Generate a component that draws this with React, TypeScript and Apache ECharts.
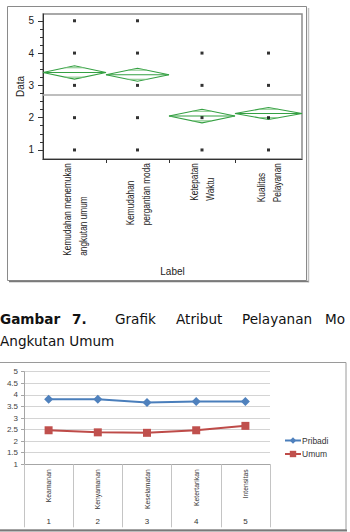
import React, { useEffect, useRef } from "react";
import * as echarts from "echarts";

// ---- Top chart (JMP one-way means diamonds) ----
const topCategories = [
  "Kemudahan menemukan\nangkutan umum",
  "Kemudahan\npergantian moda",
  "Ketepatan\nWaktu",
  "Kualitas\nPelayanan",
];
const groupWidths = [63, 63, 66, 67];
const groupMeans = [3.4, 3.33, 2.05, 2.13];
const groupCIHalf = [0.205, 0.2, 0.21, 0.185];
const groupResponses = [
  [1, 2, 3, 4, 5],
  [1, 2, 3, 4, 5],
  [1, 2, 3, 4],
  [1, 2, 3, 4],
];
const grandMean = 2.72;
const topYTicks = [1, 2, 3, 4, 5];
const topYMinorTicks = [1.25, 1.5, 1.75, 2.25, 2.5, 2.75, 3.25, 3.5, 3.75, 4.25, 4.5, 4.75];

// ---- Bottom chart (Excel line chart) ----
const attrNames = ["Keamanan", "Kenyamanan", "Keselamatan", "Ketertarikan", "Intensitas"];
const attrIndex = ["1", "2", "3", "4", "5"];
const pribadi = [3.81, 3.81, 3.67, 3.71, 3.71];
const umum = [2.47, 2.38, 2.36, 2.47, 2.66];

// ---- Caption ----
const captionWords = [
  { t: "Gambar", bold: true },
  { t: "7.", bold: true },
  { t: "Grafik", bold: false },
  { t: "Atribut", bold: false },
  { t: "Pelayanan", bold: false },
  { t: "Mo", bold: false },
];
const captionLine2 = "Angkutan Umum";

export default function App() {
  const ref = useRef<HTMLDivElement>(null);

  useEffect(() => {
    const chart = echarts.init(ref.current!, null, { renderer: "svg", width: 350, height: 532 });

    const total = groupWidths.reduce((a, b) => a + b, 0);
    const starts: number[] = [];
    const ends: number[] = [];
    let acc = 0;
    groupWidths.forEach((w) => {
      starts.push(acc);
      acc += w;
      ends.push(acc);
    });
    const centers = starts.map((s, i) => (s + ends[i]) / 2);
    const innerBounds = ends.slice(0, -1);

    const dots: number[][] = [];
    groupResponses.forEach((vals, i) => vals.forEach((v) => dots.push([centers[i], v])));

    const yMin = 0.72;
    const yMax = 5.21;
    const green = "#35a043";

    const option: any = {
      animation: false,
      grid: [
        { left: 43, top: 14, width: 259, height: 145, show: true, borderColor: "#8c8c8c", borderWidth: 1.5, backgroundColor: "#fff" },
        { left: 24, top: 371.7, width: 246, height: 92.6 },
      ],
      xAxis: [
        {
          gridIndex: 0,
          type: "value",
          min: 0,
          max: total,
          axisLine: { show: true, onZero: false, lineStyle: { color: "#333", width: 1 } },
          axisTick: { show: true, customValues: innerBounds, length: 4, lineStyle: { color: "#333" } },
          axisLabel: { show: false },
          splitLine: { show: false },
          name: "Label",
          nameLocation: "middle",
          nameGap: 107,
          nameMoveOverlap: false,
          nameTextStyle: { fontSize: 10, color: "#222", fontFamily: "Liberation Sans" },
        },
        {
          gridIndex: 1,
          type: "category",
          data: attrNames,
          boundaryGap: true,
          axisLine: { show: true, lineStyle: { color: "#a6a6a6" } },
          axisTick: { show: true, length: 63, alignWithLabel: false, lineStyle: { color: "#c4c4c4" } },
          axisLabel: { rotate: 90, fontSize: 6.8, color: "#333", margin: 5, fontFamily: "Liberation Sans" },
        },
        {
          gridIndex: 1,
          type: "category",
          data: attrIndex,
          position: "bottom",
          axisLine: { show: false },
          axisTick: { show: false },
          axisLabel: { fontSize: 8, color: "#333", margin: 53, fontFamily: "Liberation Sans" },
        },
      ],
      yAxis: [
        {
          gridIndex: 0,
          type: "value",
          min: yMin,
          max: yMax,
          position: "left",
          axisLine: { show: true, lineStyle: { color: "#333" } },
          axisTick: { show: true, customValues: topYTicks, length: 5, lineStyle: { color: "#333" } },
          axisLabel: { customValues: topYTicks, fontSize: 10, color: "#222", margin: 9, fontFamily: "Liberation Sans" },
          splitLine: { show: false },
          name: "Data",
          nameLocation: "middle",
          nameGap: 18,
          nameMoveOverlap: false,
          nameTextStyle: { fontSize: 10, color: "#222", fontFamily: "Liberation Sans" },
        },
        {
          gridIndex: 0,
          type: "value",
          min: yMin,
          max: yMax,
          position: "left",
          offset: 0,
          axisLine: { show: false },
          axisTick: { show: true, customValues: topYMinorTicks, length: 3, lineStyle: { color: "#333" } },
          axisLabel: { show: false },
          splitLine: { show: false },
        },
        {
          gridIndex: 1,
          type: "value",
          min: 1,
          max: 5,
          interval: 0.5,
          axisLine: { show: true, lineStyle: { color: "#a6a6a6" } },
          axisTick: { show: true, length: 3, lineStyle: { color: "#a6a6a6" } },
          axisLabel: { fontSize: 8, color: "#444", margin: 6, fontFamily: "Liberation Sans" },
          splitLine: { show: true, lineStyle: { color: "#d4d4d4", width: 1 } },
        },
      ],
      legend: {
        data: ["Pribadi", "Umum"],
        orient: "vertical",
        left: 284,
        top: 436,
        padding: 0,
        itemWidth: 16,
        itemHeight: 8,
        itemGap: 4.5,
        textStyle: { fontSize: 8.5, color: "#333", fontFamily: "Liberation Sans", padding: [0, 0, 0, -4] },
      },
      series: [
        {
          type: "custom",
          xAxisIndex: 0,
          yAxisIndex: 0,
          data: groupMeans.map((m, i) => [starts[i], ends[i], m, groupCIHalf[i]]),
          encode: { x: [0, 1], y: 2 },
          renderItem: (params: any, api: any) => {
            const x0 = api.value(0);
            const x1 = api.value(1);
            const m = api.value(2);
            const h = api.value(3);
            const xc = (x0 + x1) / 2;
            const pL = api.coord([x0, m]);
            const pR = api.coord([x1, m]);
            const pT = api.coord([xc, m + h]);
            const pB = api.coord([xc, m - h]);
            const k = 1 / Math.SQRT2;
            const half = (pR[0] - pL[0]) / 2;
            const ow = half * (1 - k);
            const cx = (pL[0] + pR[0]) / 2;
            const yU = api.coord([xc, m + h * k])[1];
            const yD = api.coord([xc, m - h * k])[1];
            return {
              type: "group",
              children: [
                {
                  type: "polygon",
                  shape: { points: [pL, pT, pR, pB] },
                  style: { fill: "none", stroke: green, lineWidth: 1.1 },
                },
                {
                  type: "line",
                  shape: { x1: pL[0], y1: pL[1], x2: pR[0], y2: pR[1] },
                  style: { stroke: green, lineWidth: 1.1 },
                },
                {
                  type: "line",
                  shape: { x1: cx - ow, y1: yU, x2: cx + ow, y2: yU },
                  style: { stroke: "#7cc47f", lineWidth: 1 },
                },
                {
                  type: "line",
                  shape: { x1: cx - ow, y1: yD, x2: cx + ow, y2: yD },
                  style: { stroke: "#7cc47f", lineWidth: 1 },
                },
              ],
            };
          },
          z: 3,
        },
        {
          type: "scatter",
          xAxisIndex: 0,
          yAxisIndex: 0,
          data: dots,
          symbol: "rect",
          symbolSize: 3,
          itemStyle: { color: "#000" },
          z: 4,
          markLine: {
            silent: true,
            symbol: "none",
            label: { show: false },
            lineStyle: { color: "#a8a8a8", width: 1.5, type: "solid" },
            data: [{ yAxis: grandMean }],
          },
        },
        {
          name: "Pribadi",
          type: "line",
          xAxisIndex: 1,
          yAxisIndex: 2,
          data: pribadi,
          symbol: "diamond",
          symbolSize: 9,
          lineStyle: { color: "#4a7ebb", width: 2 },
          itemStyle: { color: "#4f81bd" },
        },
        {
          name: "Umum",
          type: "line",
          xAxisIndex: 1,
          yAxisIndex: 2,
          data: umum,
          symbol: "rect",
          symbolSize: 8,
          lineStyle: { color: "#be4b48", width: 2 },
          itemStyle: { color: "#c0504d" },
        },
      ],
    };

    chart.setOption(option);

    // measure rotated label lengths
    const canvas = document.createElement("canvas");
    const ctx = canvas.getContext("2d")!;
    const labelFont = 10;
    const labelScale = 0.83;
    ctx.font = `${labelFont}px "Liberation Sans"`;
    const axisBottom = chart.convertToPixel({ yAxisIndex: 0 } as any, yMin) as number;

    const labelEls = topCategories.map((lab, i) => {
      const lines = lab.split("\n");
      const maxW = Math.max(...lines.map((l) => ctx.measureText(l).width)) * labelScale;
      const cx = chart.convertToPixel({ xAxisIndex: 0 } as any, centers[i]) as number;
      return {
        type: "text",
        x: cx + 1,
        y: axisBottom + 4 + maxW,
        rotation: Math.PI / 2,
        scaleX: labelScale,
        style: {
          text: lab,
          fontSize: labelFont,
          fontFamily: "Liberation Sans",
          fill: "#222",
          align: "left",
          verticalAlign: "middle",
          lineHeight: 16,
        },
      };
    });

    const captionX = [0, 72, 115, 176, 242, 325];
    const capFont = 13.6;
    const captionEls = captionWords.map((w, i) => ({
      type: "text",
      x: captionX[i],
      y: 319,
      style: {
        text: w.t,
        fontSize: capFont,
        fontWeight: w.bold ? "bold" : "normal",
        fontFamily: "DejaVu Sans",
        fill: "#111",
        align: "left",
        verticalAlign: "middle",
      },
    }));
    captionEls.push({
      type: "text",
      x: 0,
      y: 341,
      style: {
        text: captionLine2,
        fontSize: capFont,
        fontWeight: "normal",
        fontFamily: "DejaVu Sans",
        fill: "#111",
        align: "left",
        verticalAlign: "middle",
      },
    });

    const frameEls = [
      {
        type: "rect",
        shape: { x: 7.5, y: 6.5, width: 299, height: 274 },
        style: { fill: "none", stroke: "#8a8a8a", lineWidth: 1 },
        z: -1,
      },
      {
        type: "line",
        shape: { x1: 308.5, y1: 8, x2: 308.5, y2: 282.5 },
        style: { stroke: "#c2c2c2", lineWidth: 1.5 },
      },
      {
        type: "line",
        shape: { x1: 9, y1: 281.5, x2: 308.5, y2: 281.5 },
        style: { stroke: "#7a7a7a", lineWidth: 1.5 },
      },
      {
        type: "rect",
        shape: { x: -1, y: 362.5, width: 347, height: 167.5 },
        style: { fill: "none", stroke: "#9a9a9a", lineWidth: 1 },
        z: -1,
      },
      {
        type: "line",
        shape: { x1: 0, y1: 530.5, x2: 347, y2: 530.5 },
        style: { stroke: "#7a7a7a", lineWidth: 2 },
      },
    ];

    chart.setOption({ graphic: { elements: [...frameEls, ...labelEls, ...captionEls] } });

    return () => chart.dispose();
  }, []);

  return (
    <div
      ref={ref}
      style={{ position: "fixed", left: 0, top: 0, width: 350, height: 532, background: "#fff" }}
    />
  );
}
